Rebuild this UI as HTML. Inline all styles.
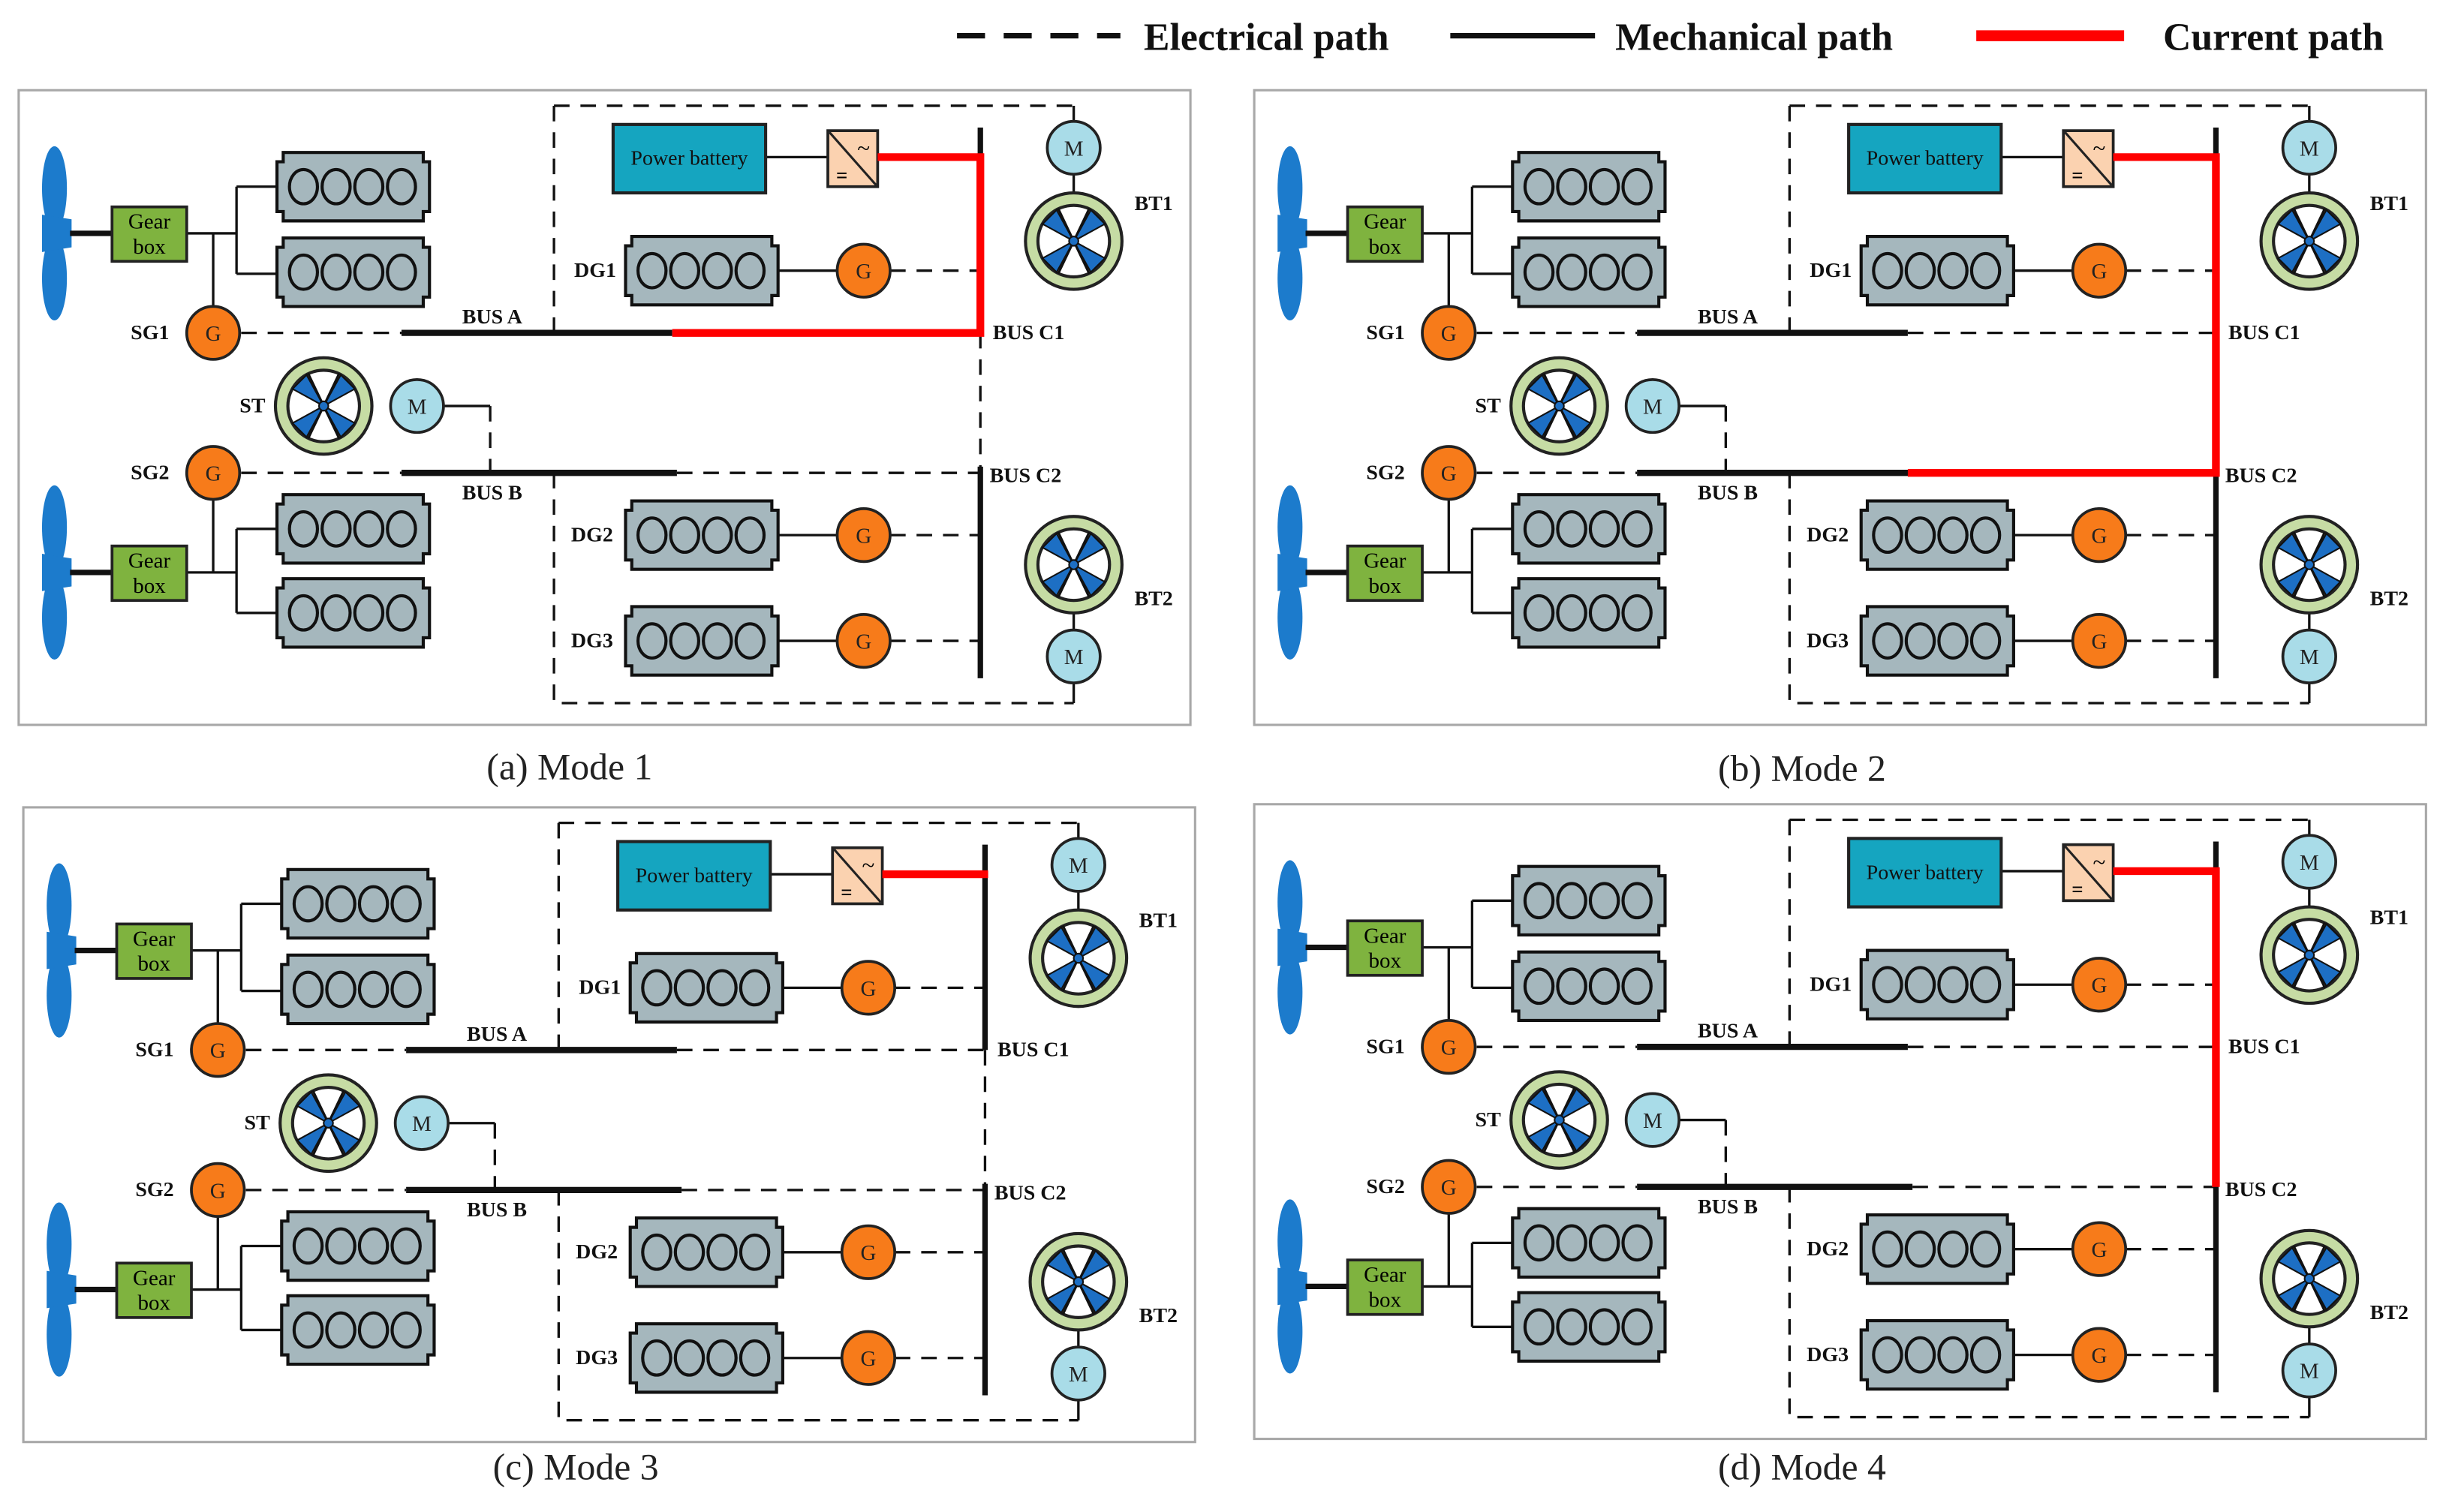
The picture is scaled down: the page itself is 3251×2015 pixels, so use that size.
<!DOCTYPE html>
<html><head><meta charset="utf-8"><style>html,body{margin:0;padding:0;background:#fff}svg{display:block}</style></head>
<body>
<svg xmlns="http://www.w3.org/2000/svg" xmlns:xlink="http://www.w3.org/1999/xlink" width="3251" height="2015" viewBox="0 0 1568 972" preserveAspectRatio="none" font-family="'Liberation Serif', serif">
<defs>
<g id="eng">
<path d="M4,0 H94 V6 H98 V38 H94 V44 H4 V38 H0 V6 H4 Z" fill="#a5b7bd" stroke="#111" stroke-width="2"/>
<ellipse cx="17" cy="22" rx="9" ry="11" fill="none" stroke="#111" stroke-width="2"/>
<ellipse cx="38" cy="22" rx="9" ry="11" fill="none" stroke="#111" stroke-width="2"/>
<ellipse cx="59" cy="22" rx="9" ry="11" fill="none" stroke="#111" stroke-width="2"/>
<ellipse cx="80" cy="22" rx="9" ry="11" fill="none" stroke="#111" stroke-width="2"/>
</g>
<g id="wheel">
<circle r="31" fill="#c6dca4" stroke="#222" stroke-width="2"/>
<circle r="23" fill="#fff" stroke="#222" stroke-width="2"/>
<g fill="#1d6fc4" stroke="#111" stroke-width="1">
<polygon points="0,0 -20,-11 -11,-20"/>
<polygon points="0,0 20,-11 11,-20"/>
<polygon points="0,0 -20,11 -11,20"/>
<polygon points="0,0 20,11 11,20"/>
</g>
<g stroke="#111" stroke-width="1.5"><line x1="-10" y1="-21" x2="10" y2="21"/><line x1="10" y1="-21" x2="-10" y2="21"/></g>
<circle r="3" fill="#1d6fc4" stroke="#111"/>
</g>
<g id="prop">
<ellipse cx="35" cy="-29" rx="8" ry="27" fill="#1c7bcc"/>
<ellipse cx="35" cy="29" rx="8" ry="27" fill="#1c7bcc"/>
<polygon points="27,-12 46,-9 46,9 27,12" fill="#1c7bcc"/>
<line x1="45" y1="0" x2="72" y2="0" stroke="#111" stroke-width="3.5"/>
</g>
<g id="G"><circle r="17" fill="#f77b1a" stroke="#222" stroke-width="1.8"/><text y="5" text-anchor="middle" font-size="14" fill="#222">G</text></g>
<g id="M"><circle r="17" fill="#a9dce8" stroke="#222" stroke-width="1.8"/><text y="5" text-anchor="middle" font-size="14" fill="#222">M</text></g>
<g id="gb"><rect x="72" y="-17" width="48" height="35" fill="#7fb33f" stroke="#222" stroke-width="1.8"/><text x="96" y="-3" text-anchor="middle" font-size="14">Gear</text><text x="96" y="13" text-anchor="middle" font-size="14">box</text></g>
<g id="P">
<rect x="12" y="58" width="753" height="408" fill="#fff" stroke="#a8a8a8" stroke-width="1.5"/>
<g stroke="#111" stroke-width="1.6" fill="none">
<path d="M120,150 H152 M152,120 V176 M152,120 H178 M152,176 H178 M137,150 V197"/>
<path d="M120,368 H152 M152,340 V394 M152,340 H178 M152,394 H178 M137,321 V368"/>
<path d="M500,174 H538 M500,344 H538 M500,412 H538 M492,101 H532 M285,261 H315"/>
<path d="M690,68 V78 M690,112 V124 M690,394 V405 M690,439 V452"/>
</g>
<use xlink:href="#prop" transform="translate(0,150)"/>
<use xlink:href="#prop" transform="translate(0,368)"/>
<use xlink:href="#gb" transform="translate(0,150)"/>
<use xlink:href="#gb" transform="translate(0,368)"/>
<use xlink:href="#eng" x="178" y="98"/>
<use xlink:href="#eng" x="178" y="153"/>
<use xlink:href="#eng" x="178" y="318"/>
<use xlink:href="#eng" x="178" y="372"/>
<use xlink:href="#eng" x="402" y="152"/>
<use xlink:href="#eng" x="402" y="322"/>
<use xlink:href="#eng" x="402" y="390"/>
<g stroke="#111" stroke-width="1.6" fill="none" stroke-dasharray="10 7">
<path d="M356,68 H690 M356,68 V214 M356,304 V452 H690"/>
<path d="M155,214 H258 M155,304 H258 M435,304 H630 M572,174 H630 M572,344 H630 M572,412 H630 M315,261 V304 M630,214 V304"/>
</g>
<g stroke="#111" fill="none">
<path d="M258,214 H432 M258,304 H435" stroke-width="4"/>
<path d="M630,82 V214 M630,300 V436" stroke-width="3.5"/>
</g>
<use xlink:href="#G" x="137" y="214"/>
<use xlink:href="#G" x="137" y="304"/>
<use xlink:href="#G" x="555" y="174"/>
<use xlink:href="#G" x="555" y="344"/>
<use xlink:href="#G" x="555" y="412"/>
<use xlink:href="#M" x="268" y="261"/>
<use xlink:href="#M" x="690" y="95"/>
<use xlink:href="#M" x="690" y="422"/>
<use xlink:href="#wheel" transform="translate(208,261)"/>
<use xlink:href="#wheel" transform="translate(690,155)"/>
<use xlink:href="#wheel" transform="translate(690,363)"/>
<rect x="394" y="80" width="98" height="44" fill="#15a5c0" stroke="#222" stroke-width="2"/>
<text x="443" y="106" text-anchor="middle" font-size="13.5" fill="#111">Power battery</text>
<rect x="532" y="84" width="32" height="36" fill="#fbd2b0" stroke="#222" stroke-width="1.8"/>
<line x1="533" y1="85" x2="563" y2="119" stroke="#222" stroke-width="1.5"/>
<text x="555" y="100" text-anchor="middle" font-size="15">~</text>
<text x="541" y="117" text-anchor="middle" font-size="13" font-weight="bold">=</text>
<g font-size="13.5" font-weight="bold" fill="#111">
<text x="84" y="218">SG1</text>
<text x="84" y="308">SG2</text>
<text x="154" y="265">ST</text>
<text x="297" y="208">BUS A</text>
<text x="297" y="321">BUS B</text>
<text x="369" y="178">DG1</text>
<text x="367" y="348">DG2</text>
<text x="367" y="416">DG3</text>
<text x="638" y="218">BUS C1</text>
<text x="636" y="310">BUS C2</text>
<text x="729" y="135">BT1</text>
<text x="729" y="389">BT2</text>
</g>
</g>
</defs>
<g font-size="25" font-weight="bold" fill="#111">
<line x1="615" y1="23" x2="720" y2="23" stroke="#111" stroke-width="3.5" stroke-dasharray="18 12"/>
<text x="735" y="32">Electrical path</text>
<line x1="932" y1="23" x2="1025" y2="23" stroke="#111" stroke-width="3.5"/>
<text x="1038" y="32">Mechanical path</text>
<line x1="1270" y1="23" x2="1365" y2="23" stroke="#f00" stroke-width="7"/>
<text x="1390" y="32">Current path</text>
</g>
<g>
<use xlink:href="#P"/>
<path d="M564,101 H630 V214 H432" stroke="#f00" stroke-width="5" fill="none"/>
</g>
<g transform="translate(794,0)">
<use xlink:href="#P"/>
<path d="M432,214 H630" stroke="#111" stroke-width="1.6" stroke-dasharray="10 7"/>
<path d="M564,101 H630 V304 H432" stroke="#f00" stroke-width="5" fill="none"/>
</g>
<g transform="translate(3,461)">
<use xlink:href="#P"/>
<path d="M432,214 H630" stroke="#111" stroke-width="1.6" stroke-dasharray="10 7"/>
<path d="M564,101 H632" stroke="#f00" stroke-width="5" fill="none"/>
</g>
<g transform="translate(794,459)">
<use xlink:href="#P"/>
<path d="M432,214 H630" stroke="#111" stroke-width="1.6" stroke-dasharray="10 7"/>
<path d="M564,101 H630 V304" stroke="#f00" stroke-width="5" fill="none"/>
</g>
<g font-size="24" fill="#222" text-anchor="middle">
<text x="366" y="501">(a) Mode 1</text>
<text x="1158" y="502">(b) Mode 2</text>
<text x="370" y="951">(c)  Mode 3</text>
<text x="1158" y="951">(d) Mode 4</text>
</g>
</svg>
</body></html>
